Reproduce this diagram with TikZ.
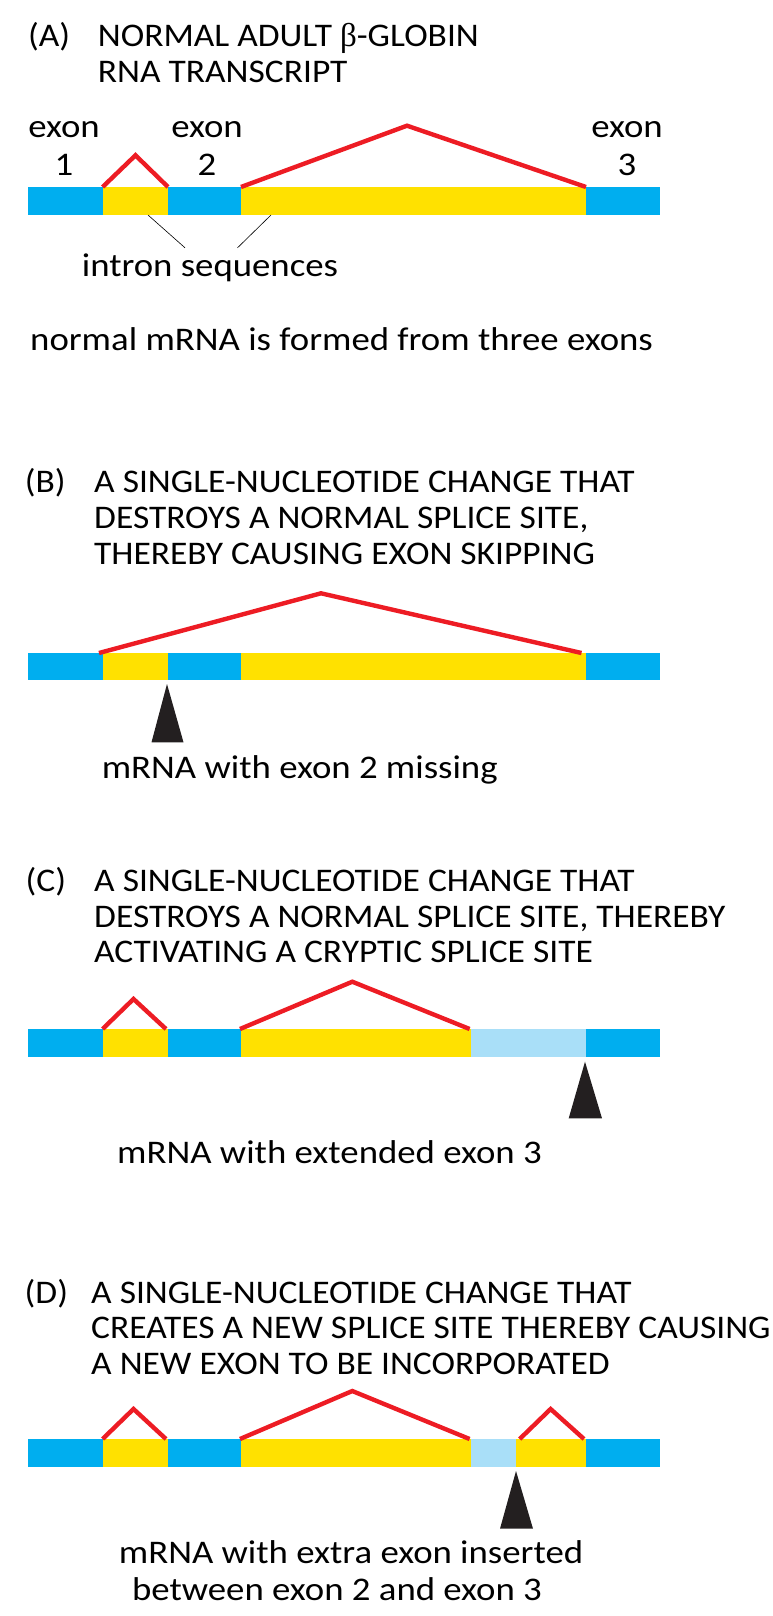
\documentclass[tikz,border=0pt]{standalone}
\usepackage{fontspec}
\setmainfont[FakeStretch=1.075]{Carlito}
\newfontfamily\labelfont[FakeStretch=1.115]{Carlito}
\newfontfamily\betafont{Liberation Serif}
\usetikzlibrary{positioning}

\definecolor{exonblue}{HTML}{00AEEF}
\definecolor{intronyellow}{HTML}{FFE100}
\definecolor{crypticblue}{HTML}{A9DFF8}
\definecolor{splicered}{HTML}{ED1C24}
\definecolor{markerblack}{HTML}{231F20}

\begin{document}
\begin{tikzpicture}[x=1pt, y=-1pt, font=\fontsize{33}{38}\selectfont,
    exon/.style={fill=exonblue},
    intron/.style={fill=intronyellow},
    cryptic/.style={fill=crypticblue},
    splice/.style={draw=splicered, line width=4.4pt},
    marker/.style={fill=markerblack},
    lbl/.style={anchor=base, inner sep=0pt, font=\labelfont\fontsize{33}{38}\selectfont},
    note/.style={anchor=base west, inner sep=0pt, font=\labelfont\fontsize{33}{38}\selectfont},
    head/.style={anchor=base west, inner sep=0pt}]
    \useasboundingbox (0,0) rectangle (772,1616);

    % (A) normal transcript
    \node[head] (tA) at (28,46.7) {(A)};
    \node[head] (tA1) at (97.7,46.7) {NORMAL ADULT {\betafont β}-GLOBIN};
    \node[head] (tA2) at ([yshift=-36pt]tA1.base west) {RNA TRANSCRIPT};

    \fill[exon]   (28,187) rectangle (102.6,215);
    \fill[intron] (102.6,187) rectangle (168,215);
    \fill[exon]   (168,187) rectangle (241,215);
    \fill[intron] (241,187) rectangle (586,215);
    \fill[exon]   (586,187) rectangle (660,215);
    \draw[splice] (102.6,187) -- (135.5,155.3) -- (168,187);
    \draw[splice] (241,187) -- (407,125.7) -- (586,187);

    \node[lbl] (ex1) at (64,138) {exon};
    \node[lbl] (n1) at (64,176) {1};
    \node[lbl] (ex2) at (207,138) {exon};
    \node[lbl] (n2) at (207,176) {2};
    \node[lbl] (ex3) at (627,138) {exon};
    \node[lbl] (n3) at (627,176) {3};

    \node[lbl] (intron) at (210,276.7) {intron sequences};
    \coordinate (in1) at (148,215);
    \coordinate (in2) at (271,215);
    \draw[line width=0.6pt] (in1) -- ([xshift=-25pt,yshift=6pt]intron.north);
    \draw[line width=0.6pt] (in2) -- ([xshift=27.5pt,yshift=6pt]intron.north);

    \node[lbl] (normal) at (341.5,350) {normal mRNA is formed from three exons};

    % (B) exon skipping
    \node[head] (tB) at (24.6,492.7) {(B)};
    \node[head] (tB1) at (94,492.7) {A SINGLE-NUCLEOTIDE CHANGE THAT};
    \node[head] (tB2) at ([yshift=-35.7pt]tB1.base west) {DESTROYS A NORMAL SPLICE SITE,};
    \node[head] (tB3) at ([yshift=-35.7pt]tB2.base west) {THEREBY CAUSING EXON SKIPPING};

    \fill[exon]   (28,653) rectangle (102.6,680);
    \fill[intron] (102.6,653) rectangle (168,680);
    \fill[exon]   (168,653) rectangle (241,680);
    \fill[intron] (241,653) rectangle (586,680);
    \fill[exon]   (586,653) rectangle (660,680);
    \draw[splice] (99,653) -- (321,593.3) -- (581.5,653);
    \coordinate (mutB) at (167,684);
    \fill[marker] (mutB) -- (183.5,742.3) -- (151.5,742.3) -- cycle;

    \node[note] (txtB) at (101.6,778) {mRNA with exon 2 missing};

    % (C) cryptic splice site
    \node[head] (tC) at (25.5,891.7) {(C)};
    \node[head] (tC1) at (94,891.7) {A SINGLE-NUCLEOTIDE CHANGE THAT};
    \node[head] (tC2) at ([yshift=-35.6pt]tC1.base west) {DESTROYS A NORMAL SPLICE SITE, THEREBY};
    \node[head] (tC3) at ([yshift=-35.6pt]tC2.base west) {ACTIVATING A CRYPTIC SPLICE SITE};

    \fill[exon]    (28,1029) rectangle (102.6,1057);
    \fill[intron]  (102.6,1029) rectangle (168,1057);
    \fill[exon]    (168,1029) rectangle (241,1057);
    \fill[intron]  (241,1029) rectangle (471,1057);
    \fill[cryptic] (471,1029) rectangle (586,1057);
    \fill[exon]    (586,1029) rectangle (660,1057);
    \draw[splice] (102.6,1029) -- (133.5,999) -- (166,1029);
    \draw[splice] (240,1029) -- (352.3,981.7) -- (469.6,1029);
    \coordinate (mutC) at (585,1061.7);
    \fill[marker] (mutC) -- (602,1118.3) -- (568.7,1118.3) -- cycle;

    \node[note] (txtC) at (117,1163) {mRNA with extended exon 3};

    % (D) new exon
    \node[head] (tD) at (24.5,1303.3) {(D)};
    \node[head] (tD1) at (91,1303.3) {A SINGLE-NUCLEOTIDE CHANGE THAT};
    \node[head] (tD2) at ([yshift=-35.5pt]tD1.base west) {CREATES A NEW SPLICE SITE THEREBY CAUSING};
    \node[head] (tD3) at ([yshift=-35.5pt]tD2.base west) {A NEW EXON TO BE INCORPORATED};

    \fill[exon]    (28,1439) rectangle (102.6,1467);
    \fill[intron]  (102.6,1439) rectangle (168,1467);
    \fill[exon]    (168,1439) rectangle (241,1467);
    \fill[intron]  (241,1439) rectangle (471,1467);
    \fill[cryptic] (471,1439) rectangle (516,1467);
    \fill[intron]  (516,1439) rectangle (586,1467);
    \fill[exon]    (586,1439) rectangle (660,1467);
    \draw[splice] (102.6,1439) -- (133.5,1409) -- (166,1439);
    \draw[splice] (240,1439) -- (352.3,1391) -- (469.6,1439);
    \draw[splice] (519.7,1439) -- (550.6,1409) -- (584,1439);
    \coordinate (mutD) at (516,1471);
    \fill[marker] (mutD) -- (533,1528.7) -- (500,1528.7) -- cycle;

    \node[lbl] (txtD1) at (351,1563) {mRNA with extra exon inserted};
    \node[lbl] (txtD2) at (337,1600) {between exon 2 and exon 3};
\end{tikzpicture}
\end{document}
